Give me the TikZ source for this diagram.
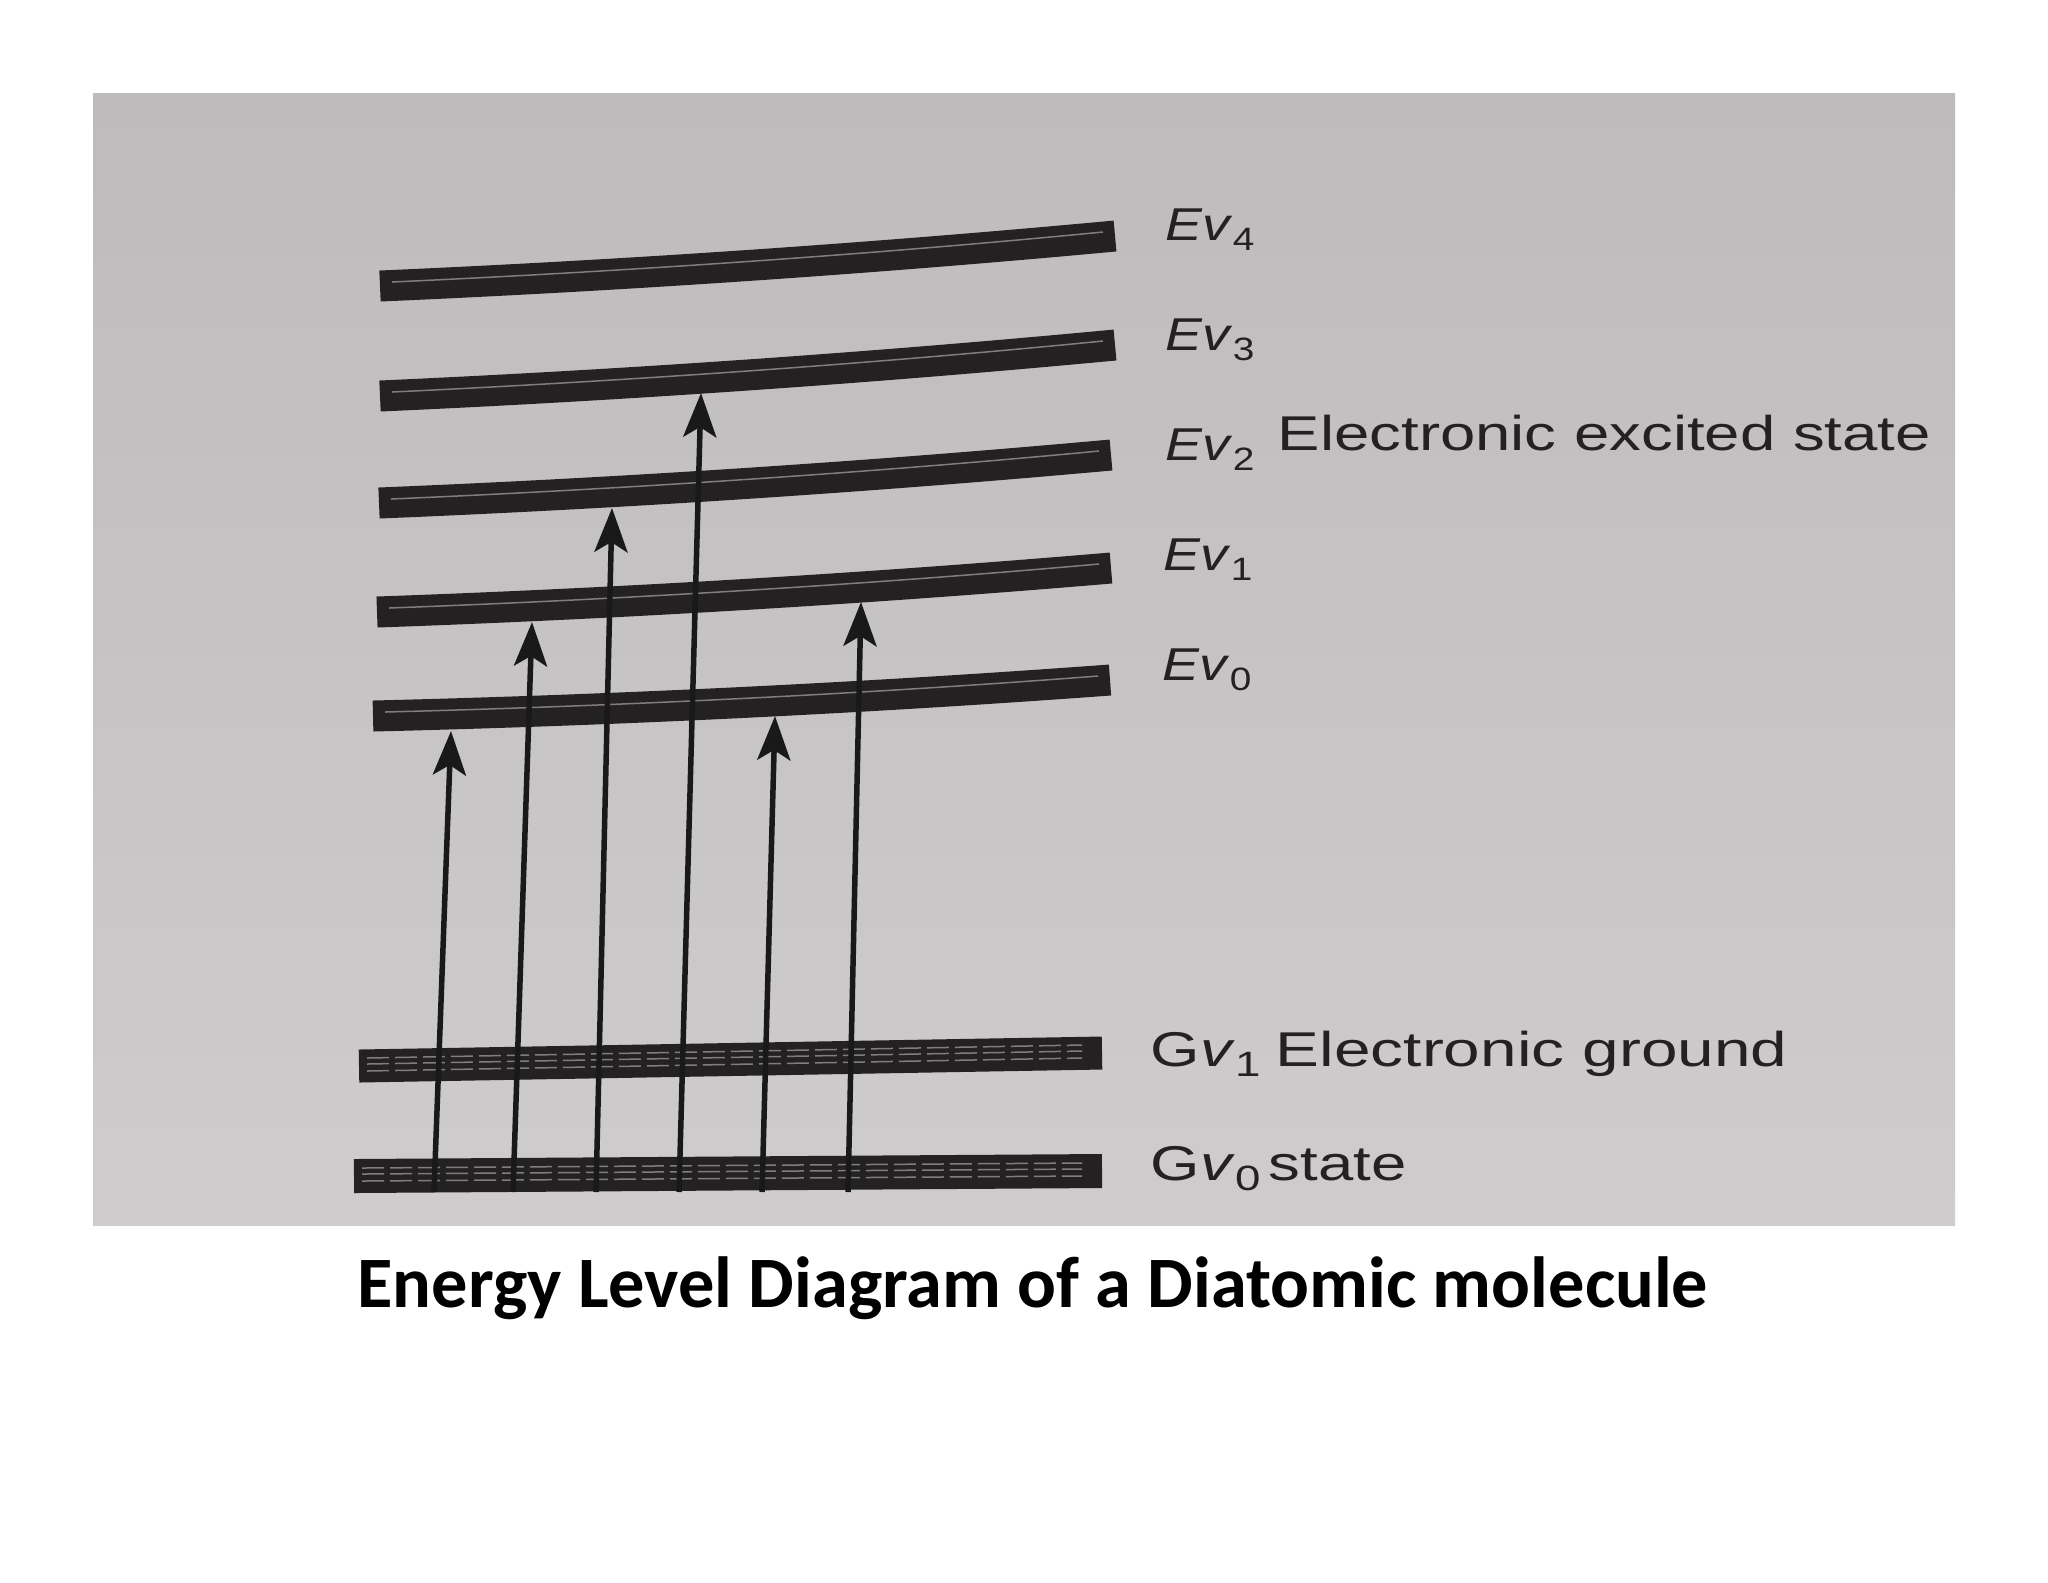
\documentclass[tikz,border=0pt]{standalone}
\usepackage{fontspec}
\setmainfont{Liberation Sans}
\newfontfamily\capfont{Carlito}
\usepackage{tikz}
\usetikzlibrary{positioning,arrows.meta,calc}
\definecolor{paper}{RGB}{190,187,188}
\definecolor{paperlow}{RGB}{206,204,204}
\definecolor{ink}{RGB}{36,33,34}
\definecolor{streak}{RGB}{128,125,125}
\newcommand\vsub[2][9.2]{\raisebox{-1mm}{\fontsize{#1}{10}\selectfont #2}}

\begin{document}
\begin{tikzpicture}[x=0.1mm,y=-0.1mm,
    level/.style={draw=ink,line width=3.1mm},
    gap/.style={draw=streak,line width=0.15mm},
    gapdash/.style={draw=streak,line width=0.15mm,dash pattern=on 2.2mm off 0.6mm},
    trans/.style={draw=black!90,line width=0.55mm,-{Stealth[length=4.4mm,width=3.3mm,inset=1mm]}},
    lbl/.style={anchor=base west,inner sep=0pt,xscale=1.2,text=ink,font=\fontsize{13.1}{15}\selectfont},
    desc/.style={anchor=base west,inner sep=0pt,xscale=1.3,text=ink,font=\fontsize{13.9}{16}\selectfont}]
  \useasboundingbox (0,0) rectangle (2048,1582);
  \fill[white] (0,0) rectangle (2048,1582);
  \shade[top color=paper,bottom color=paperlow] (93,93) rectangle (1955,1225);
  % excited vibrational levels
  \foreach \n/\xl/\yl/\xr/\yr in {4/380/286/1115/236,3/380/396/1115/345,2/379/503/1111/455,1/377/612/1111/568,0/373/716/1110/680}{
    \coordinate (ev\n l) at (\xl,\yl);
    \coordinate (ev\n r) at (\xr,\yr);
    \draw[level] (ev\n l) .. controls ($(ev\n l)!0.33!(ev\n r)+(0,6)$) and ($(ev\n l)!0.67!(ev\n r)+(0,6)$) .. (ev\n r);
    \draw[gap] ($(ev\n l)+(12,-4)$) .. controls ($(ev\n l)!0.33!(ev\n r)+(0,2)$) and ($(ev\n l)!0.67!(ev\n r)+(0,2)$) .. ($(ev\n r)+(-12,-4)$);
  }
  % ground levels
  \coordinate (gv1l) at (359,1066);
  \coordinate (gv1r) at (1102,1053);
  \coordinate (gv0l) at (354,1176);
  \coordinate (gv0r) at (1102,1171);
  \draw[level,line width=3.3mm] (gv1l) -- (gv1r);
  \draw[level,line width=3.4mm] (gv0l) -- (gv0r);
  \foreach \g in {1,0}{
    \foreach \dy in {-8,-2,5}{
      \draw[gapdash] ($(gv\g l)+(8,\dy)$) -- ($(gv\g r)+(-20,\dy)$);
    }
  }
  % transitions
  \foreach \i/\xb/\xt/\yt in {1/434/451/731,2/513/532/622,3/596/612/508,4/679/701/393,5/762/775/716,6/848/861/602}{
    \coordinate (foot\i) at (\xb,1192);
    \coordinate (tip\i) at (\xt,\yt);
    \draw[trans] (foot\i) -- (tip\i);
  }
  % labels
  \node[lbl] (ev4lab) at (1165,240) {\textit{Ev}\vsub{4}};
  \node[lbl] (ev3lab) at (1165,350) {\textit{Ev}\vsub{3}};
  \node[lbl] (ev2lab) at (1165,460) {\textit{Ev}\vsub{2}};
  \node[lbl] (ev1lab) at (1163,570) {\textit{Ev}\vsub{1}};
  \node[lbl] (ev0lab) at (1162,680) {\textit{Ev}\vsub{0}};
  \node[desc] (excited) at (1277,450) {Electronic excited state};
  \node[desc] (gv1lab) at (1150,1066) {G\textit{v}\vsub[10]{1}};
  \node[desc,xscale=1.035] (ground) at (1275,1066) {Electronic ground};
  \node[desc] (gv0lab) at (1150,1180) {G\textit{v}\vsub[10]{0}};
  \node[desc] (state) at (1268,1180) {state};
  \node[anchor=base,inner sep=0pt,font=\capfont\bfseries\fontsize{20.6}{25}\selectfont] (title) at (1033,1307) {Energy Level Diagram of a Diatomic molecule};
\end{tikzpicture}
\end{document}
